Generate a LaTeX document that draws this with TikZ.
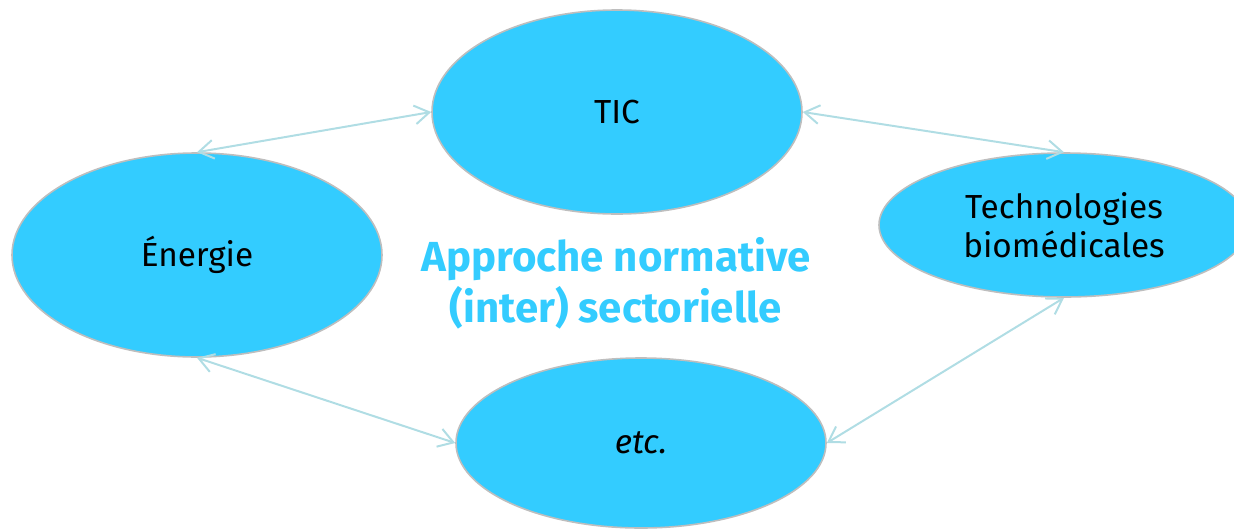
\documentclass[tikz,border=0pt]{standalone}
\usepackage{fontspec}
\setmainfont{Fira Sans}
\usetikzlibrary{shapes.geometric,arrows.meta}
\definecolor{bulle}{RGB}{51,204,255}
\definecolor{bord}{RGB}{190,190,190}
\definecolor{lien}{RGB}{176,221,228}
\tikzset{
  secteur/.style={ellipse,draw=bord,line width=1.2pt,fill=bulle,inner sep=0pt,
    minimum width=277.5pt,align=center,font=\fontsize{25}{29}\selectfont},
  lien/.style={draw=lien,line width=1.5pt,{Straight Barb[length=11pt,width=14pt]}-{Straight Barb[length=11pt,width=14pt]}}
}
\begin{document}
\begin{tikzpicture}[x=0.75pt,y=0.75pt,yscale=-1,xscale=1]
\useasboundingbox (0,0) rectangle (1234,529);

%Shape: Ellipse
\node [secteur,minimum height=153pt] (tic) at (617,112) {TIC};
%Shape: Ellipse
\node [secteur,minimum height=153pt] (energie) at (197,255) {Énergie};
%Shape: Ellipse
\node [secteur,minimum height=108pt] (biomed) at (1064,225) {Technologies\\biomédicales};
%Shape: Ellipse
\node [secteur,minimum height=127.5pt] (etc) at (641,443) {\itshape etc.};

%Straight Lines
\draw [lien] (energie.north) -- (tic.west);
\draw [lien] (tic.east) -- (biomed.north);
\draw [lien] (energie.south) -- (etc.west);
\draw [lien] (biomed.south) -- (etc.east);

% Text Node
\node [align=center,text=bulle,font=\fontsize{31.5}{38}\selectfont\bfseries] (titre) at (616,283) {Approche normative\\(inter) sectorielle};

\end{tikzpicture}
\end{document}
